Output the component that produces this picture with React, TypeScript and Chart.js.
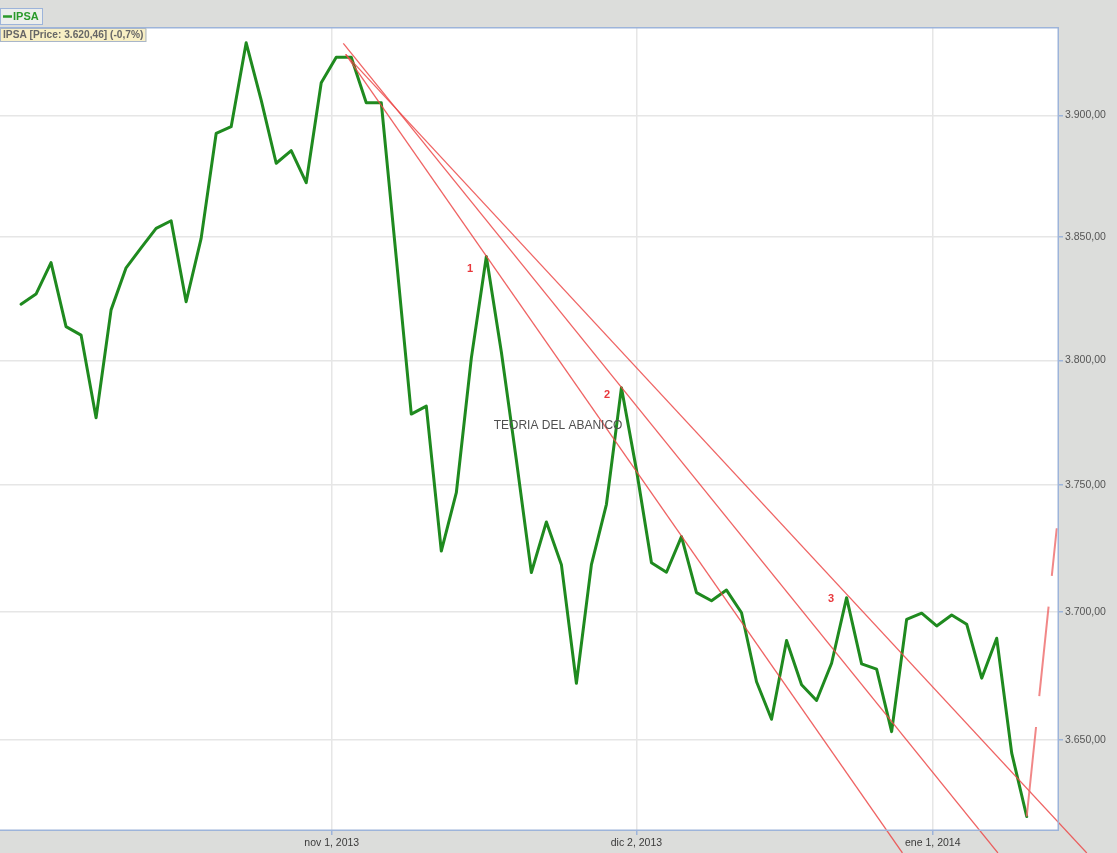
import React, { useEffect, useRef } from "react";
import { Chart, registerables } from "chart.js";

Chart.register(...registerables);

// Trading days (category of each point)
const dates = [
  "2013-10-03", "2013-10-04", "2013-10-07", "2013-10-08", "2013-10-09", "2013-10-10", "2013-10-11",
  "2013-10-14", "2013-10-15", "2013-10-16", "2013-10-17", "2013-10-18", "2013-10-21", "2013-10-22",
  "2013-10-23", "2013-10-24", "2013-10-25", "2013-10-28", "2013-10-29", "2013-10-30", "2013-10-31",
  "2013-11-04", "2013-11-05", "2013-11-06", "2013-11-07", "2013-11-08", "2013-11-11", "2013-11-12",
  "2013-11-13", "2013-11-14", "2013-11-15", "2013-11-18", "2013-11-19", "2013-11-20", "2013-11-21",
  "2013-11-22", "2013-11-25", "2013-11-26", "2013-11-27", "2013-11-28", "2013-11-29", "2013-12-02",
  "2013-12-03", "2013-12-04", "2013-12-05", "2013-12-06", "2013-12-09", "2013-12-10", "2013-12-11",
  "2013-12-12", "2013-12-13", "2013-12-16", "2013-12-17", "2013-12-18", "2013-12-19", "2013-12-20",
  "2013-12-23", "2013-12-24", "2013-12-26", "2013-12-27", "2013-12-30", "2014-01-02", "2014-01-03",
  "2014-01-06", "2014-01-07", "2014-01-08", "2014-01-09", "2014-01-10",
];

// IPSA closing values
const ipsa = [
  3822.7, 3826.8, 3839.6, 3813.6, 3810.2, 3776.9, 3820.4,
  3837.5, 3845.6, 3853.6, 3856.7, 3823.7, 3849.5, 3892.6,
  3895.4, 3930.2, 3906.4, 3880.3, 3885.5, 3872.3, 3913.6,
  3924.2, 3924.2, 3905.3, 3905.3, 3841.5, 3778.4, 3781.6,
  3723.9, 3747.0, 3800.9, 3842.1, 3803.4, 3760.0, 3715.4,
  3735.4, 3718.5, 3672.0, 3718.5, 3742.4, 3789.0, 3756.1,
  3719.3, 3715.5, 3729.6, 3707.5, 3704.3, 3708.5, 3699.6,
  3672.6, 3658.0, 3688.7, 3671.4, 3665.3, 3679.8, 3705.5,
  3679.6, 3677.5, 3653.2, 3697.0, 3699.4, 3694.4, 3698.7,
  3695.1, 3674.0, 3689.6, 3644.9, 3620.46,
];

// Axis ticks
const yTicks = [3650, 3700, 3750, 3800, 3850, 3900];
const xTickPositions = [20.7, 41, 60.74];
const xTickLabels = ["nov 1, 2013", "dic 2, 2013", "ene 1, 2014"];

// Fan lines (index, price)
const fanFromIdx = [21.63, 21.47, 21.63];
const fanFromVal = [3925.4, 3930.0, 3925.4];
const fanToIdx = [58.72, 65.08, 71.0];
const fanToVal = [3606.5, 3606.5, 3606.5];

// Dashed projection line
const projIdx = [67, 69.0];
const projVal = [3620.46, 3732.9];

// Fan labels
const fanLabels = ["1", "2", "3"];
const fanLabelIdx = [29.91, 39.04, 53.96];
const fanLabelVal = [3837.0, 3786.1, 3705.0];

const noteText = "TEORIA DEL ABANICO";
const noteIdx = 35.78;
const noteVal = 3773.6;

const FONT = "'Liberation Sans', Arial, Helvetica, sans-serif";

function fmtNum(v: number): string {
  const fixed = v.toFixed(2);
  const [ip, dp] = fixed.split(".");
  const withDots = ip.replace(/\B(?=(\d{3})+(?!\d))/g, ".");
  return withDots + "," + dp;
}

const overlayPlugin = {
  id: "overlayPlugin",
  beforeDraw(chart: any) {
    const { ctx, chartArea: a, width, height } = chart;
    ctx.save();
    ctx.fillStyle = "#dcdddb";
    ctx.fillRect(0, 0, width, height);
    ctx.fillStyle = "#ffffff";
    ctx.fillRect(a.left, a.top, a.right - a.left, a.bottom - a.top);
    ctx.restore();
  },
  afterDatasetsDraw(chart: any) {
    const { ctx } = chart;
    const xs = chart.scales.x;
    const ys = chart.scales.y;
    ctx.save();
    ctx.strokeStyle = "rgba(236,72,72,0.85)";
    ctx.lineWidth = 1.3;
    for (let i = 0; i < fanFromIdx.length; i++) {
      ctx.beginPath();
      ctx.moveTo(xs.getPixelForValue(fanFromIdx[i]), ys.getPixelForValue(fanFromVal[i]));
      ctx.lineTo(xs.getPixelForValue(fanToIdx[i]), ys.getPixelForValue(fanToVal[i]));
      ctx.stroke();
    }
    ctx.setLineDash([90, 31]);
    ctx.strokeStyle = "rgba(238,105,105,0.8)";
    ctx.lineWidth = 2;
    ctx.beginPath();
    ctx.moveTo(xs.getPixelForValue(projIdx[0]), ys.getPixelForValue(projVal[0]));
    ctx.lineTo(xs.getPixelForValue(projIdx[1]), ys.getPixelForValue(projVal[1]));
    ctx.stroke();
    ctx.setLineDash([]);

    ctx.fillStyle = "#e8383c";
    ctx.font = `bold 11px ${FONT}`;
    ctx.textAlign = "center";
    ctx.textBaseline = "middle";
    for (let i = 0; i < fanLabels.length; i++) {
      ctx.fillText(fanLabels[i], xs.getPixelForValue(fanLabelIdx[i]), ys.getPixelForValue(fanLabelVal[i]));
    }
    ctx.fillStyle = "#505050";
    ctx.font = `12px ${FONT}`;
    ctx.fillText(noteText, xs.getPixelForValue(noteIdx), ys.getPixelForValue(noteVal));
    ctx.restore();
  },
  afterDraw(chart: any) {
    const { ctx, chartArea: a } = chart;
    ctx.save();
    ctx.strokeStyle = "#9db4da";
    ctx.lineWidth = 1.5;
    ctx.beginPath();
    ctx.moveTo(a.left, a.top + 0.75);
    ctx.lineTo(a.right - 0.75, a.top + 0.75);
    ctx.lineTo(a.right - 0.75, a.bottom - 0.75);
    ctx.lineTo(a.left, a.bottom - 0.75);
    ctx.stroke();

    // legend box
    ctx.fillStyle = "#eceeec";
    ctx.fillRect(0, 8, 43, 17);
    ctx.strokeStyle = "#9db4da";
    ctx.lineWidth = 1;
    ctx.strokeRect(0.5, 8.5, 42, 16);
    ctx.strokeStyle = "#2a9a2a";
    ctx.lineWidth = 2.5;
    ctx.beginPath();
    ctx.moveTo(3, 16.5);
    ctx.lineTo(12, 16.5);
    ctx.stroke();
    ctx.fillStyle = "#2a9a2a";
    ctx.font = `bold 11px ${FONT}`;
    ctx.textAlign = "left";
    ctx.textBaseline = "middle";
    ctx.fillText("IPSA", 13, 17);

    // price label
    const last = ipsa[ipsa.length - 1];
    const prev = ipsa[ipsa.length - 2];
    const pct = ((last / prev - 1) * 100).toFixed(1).replace(".", ",");
    const label = `IPSA [Price: ${fmtNum(last)}] (${pct}%)`;
    ctx.font = `bold 10.2px ${FONT}`;
    const w = ctx.measureText(label).width + 6;
    ctx.fillStyle = "#f8efc4";
    ctx.fillRect(0, 28, w, 14);
    ctx.strokeStyle = "#a9b6c9";
    ctx.lineWidth = 1;
    ctx.strokeRect(0.5, 28.5, w - 1, 13);
    ctx.fillStyle = "#666666";
    ctx.fillText(label, 3, 35.5);
    ctx.restore();
  },
};

export default function App() {
  const canvasRef = useRef<HTMLCanvasElement | null>(null);

  useEffect(() => {
    document.body.style.margin = "0";
    document.body.style.background = "#dcdddb";
    const canvas = canvasRef.current;
    if (!canvas) return;
    const chart = new Chart(canvas, {
      type: "line",
      data: {
        labels: dates,
        datasets: [
          {
            label: "IPSA",
            data: ipsa.map((v, i) => ({ x: i, y: v })),
            borderColor: "#1f8a1f",
            borderWidth: 3,
            borderJoinStyle: "round",
            borderCapStyle: "round",
            pointRadius: 0,
            tension: 0,
            fill: false,
          },
        ],
      },
      options: {
        animation: false,
        responsive: true,
        maintainAspectRatio: false,
        layout: { padding: { top: 27, left: 0, right: 0, bottom: 0 } },
        plugins: {
          legend: { display: false },
          tooltip: { enabled: false },
        },
        scales: {
          x: {
            type: "linear",
            min: -1.4,
            max: 69.15,
            afterBuildTicks: (scale: any) => {
              scale.ticks = xTickPositions.map((v) => ({ value: v }));
            },
            afterFit: (scale: any) => {
              scale.height = 22;
            },
            ticks: {
              autoSkip: false,
              maxRotation: 0,
              padding: 2,
              color: "#3a3a3a",
              font: { family: FONT, size: 10.5 },
              callback: (_v: any, i: number) => xTickLabels[i],
            },
            grid: {
              color: "#e6e6e6",
              lineWidth: 1.5,
              tickColor: "#9db4da",
              tickLength: 4,
            },
            border: { display: false },
          },
          y: {
            type: "logarithmic",
            position: "right",
            min: 3614.9,
            max: 3936.8,
            afterBuildTicks: (scale: any) => {
              scale.ticks = yTicks.map((v) => ({ value: v }));
            },
            afterFit: (scale: any) => {
              scale.width = 58;
            },
            ticks: {
              padding: 2,
              color: "#555555",
              font: { family: FONT, size: 10.5 },
              callback: (v: any) => fmtNum(Number(v)),
            },
            grid: {
              color: "#e6e6e6",
              lineWidth: 1.5,
              tickColor: "#9db4da",
              tickLength: 4,
            },
            border: { display: false },
          },
        },
      },
      plugins: [overlayPlugin],
    });
    return () => chart.destroy();
  }, []);

  return (
    <div style={{ width: 1117, height: 853, position: "relative" }}>
      <canvas ref={canvasRef} />
    </div>
  );
}
